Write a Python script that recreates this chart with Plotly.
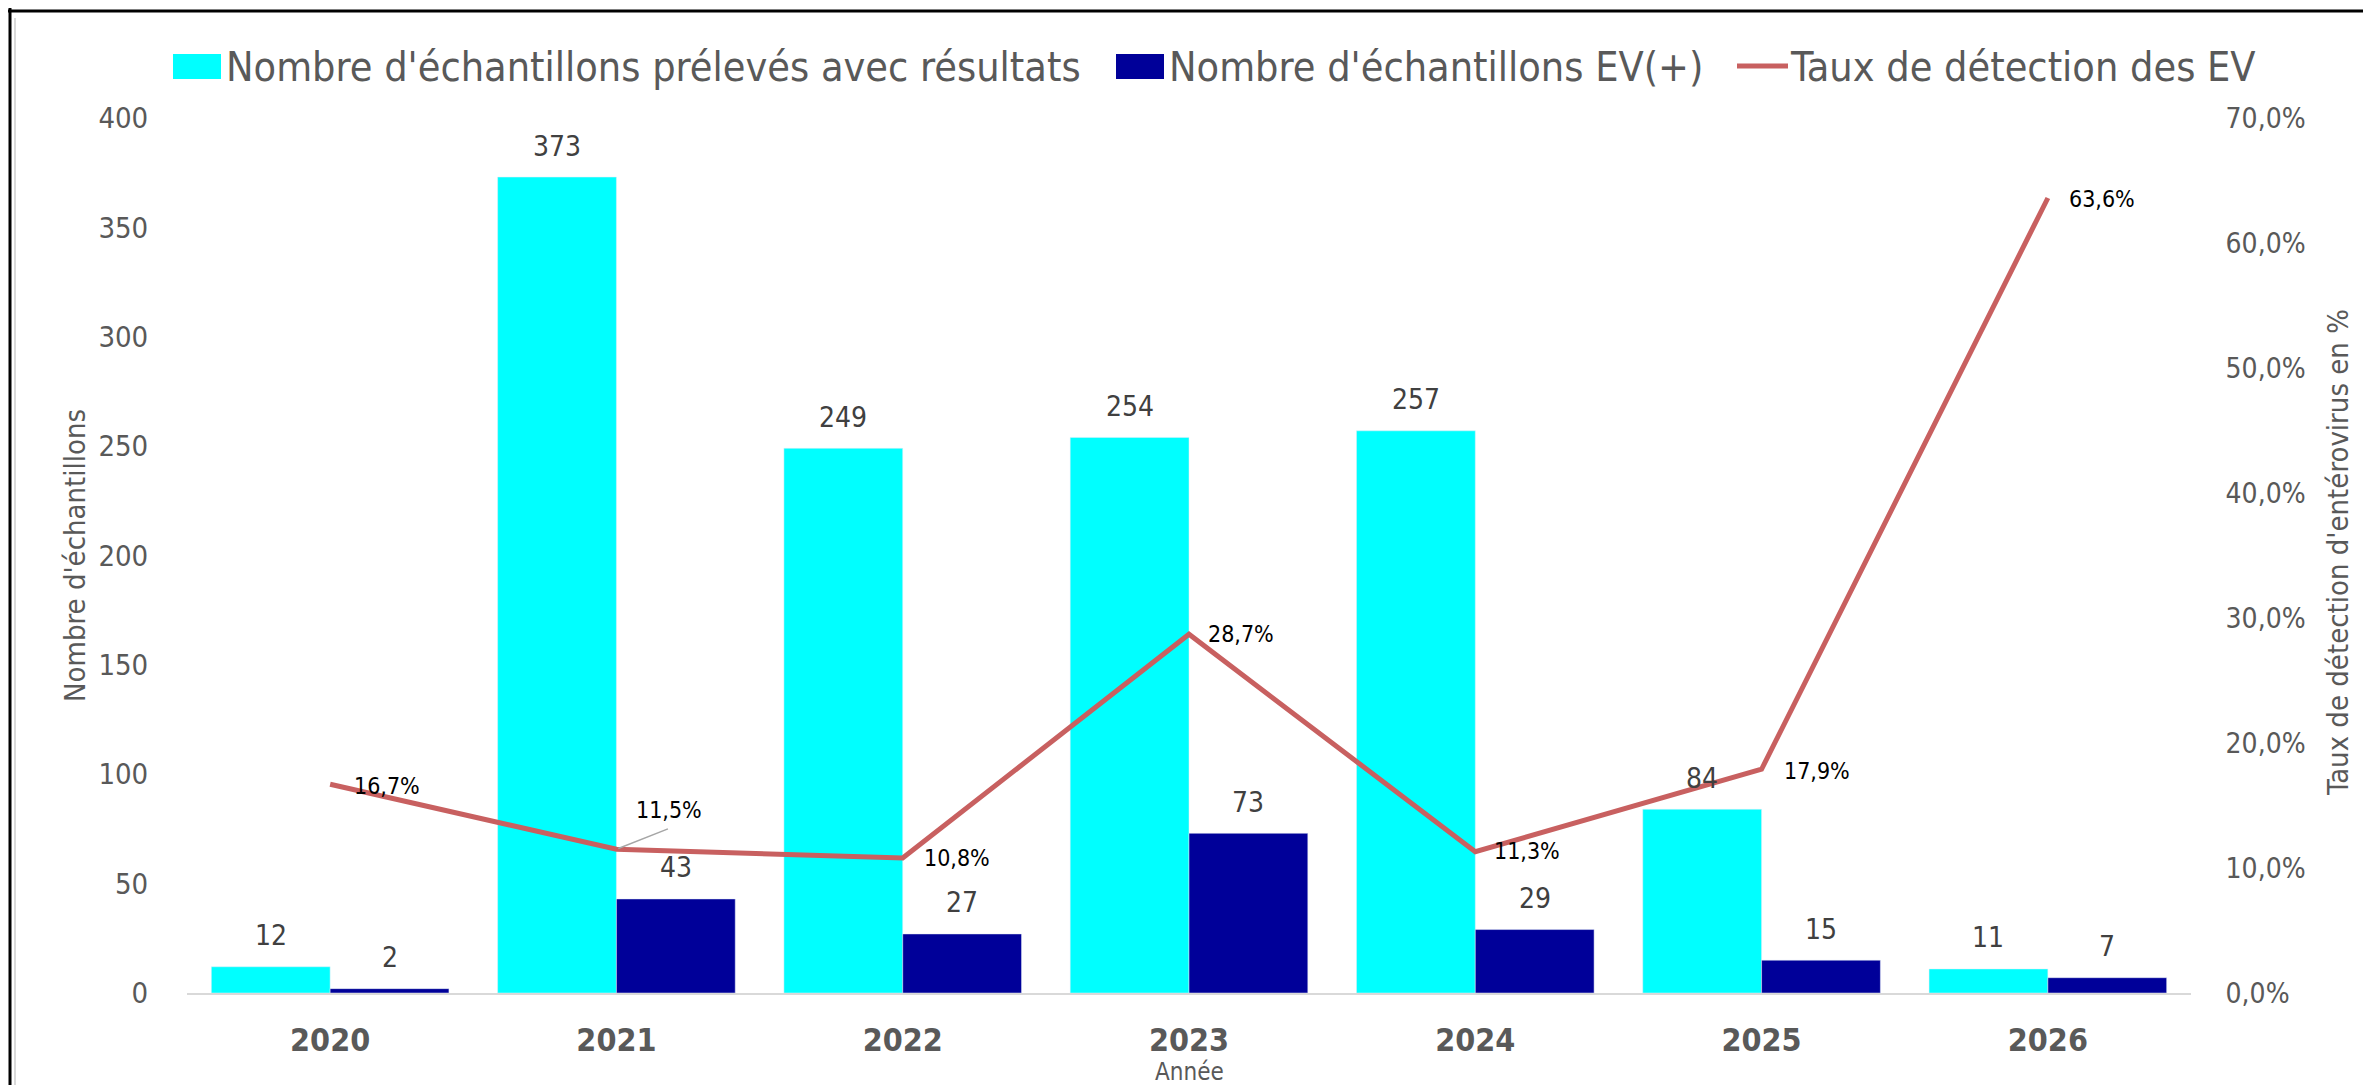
import plotly.graph_objects as go

years = ["2020", "2021", "2022", "2023", "2024", "2025", "2026"]
samples = [12, 373, 249, 254, 257, 84, 11]
positives = [2, 43, 27, 73, 29, 15, 7]
rates = [0.167, 0.115, 0.108, 0.287, 0.113, 0.179, 0.636]
rate_labels = ["16,7%", "11,5%", "10,8%", "28,7%", "11,3%", "17,9%", "63,6%"]

name_samples = "Nombre d'échantillons prélevés avec résultats"
name_pos = "Nombre d'échantillons EV(+)"
name_rate = "Taux de détection des EV"

W, H = 2371, 1085
L, R, T, B = 179, 188, 110, 100
PW, PH = W - L - R, H - T - B
BARGAP = 0.17

def px(x):
    return (x - L) / PW

def py(y):
    return (H - B - y) / PH

FONT = "DejaVu Sans Condensed, DejaVu Sans, sans-serif"
CYAN = "#00FFFF"
NAVY = "#000099"
RED = "#C86060"
GRAY = "#595959"

fig = go.Figure()
fig.add_trace(go.Bar(x=years, y=samples, name=name_samples, marker_color=CYAN,
                     showlegend=False))
fig.add_trace(go.Bar(x=years, y=positives, name=name_pos, marker_color=NAVY,
                     showlegend=False))
fig.add_trace(go.Scatter(x=years, y=rates, name=name_rate, yaxis="y2", mode="lines",
                         line=dict(color=RED, width=5), showlegend=False))

# bar value labels, centred over each bar of the group
cat_px = PW / len(years)
half_bar = cat_px * (1 - BARGAP) / 4
for i in range(len(years)):
    for vals, sign in ((samples, -1), (positives, 1)):
        fig.add_annotation(x=i, y=vals[i], xref="x", yref="y", text=str(vals[i]),
                           showarrow=False, xanchor="center", yanchor="middle",
                           xshift=sign * half_bar, yshift=31,
                           font=dict(size=28, color="#404040", family=FONT))

# line value labels (x given as category index)
shifts = [("left", 22, -2), ("center", 53, 39), ("left", 19, 0), ("left", 17, 0),
          ("left", 17, 1), ("left", 20, -2), ("left", 19, -1)]
for i, (r, lab, (anc, dx, dy)) in enumerate(zip(rates, rate_labels, shifts)):
    fig.add_annotation(x=i, y=r, xref="x", yref="y2", text=lab, showarrow=False,
                       xanchor=anc, yanchor="middle", xshift=dx, yshift=dy,
                       font=dict(size=23, color="#000000", family=FONT))
# leader line for 2021 label
fig.add_annotation(x=1, y=rates[1], xref="x", yref="y2", text="", showarrow=True,
                   arrowhead=0, arrowwidth=1.5, arrowcolor="#A6A6A6",
                   ax=53, ay=-21, axref="pixel", ayref="pixel", standoff=2)

# custom legend
legend_y = py(59)
fig.add_shape(type="rect", xref="paper", yref="paper",
              x0=px(165), x1=px(213), y0=py(71), y1=py(46),
              fillcolor=CYAN, line_width=0)
fig.add_shape(type="rect", xref="paper", yref="paper",
              x0=px(1108), x1=px(1156), y0=py(71), y1=py(46),
              fillcolor=NAVY, line_width=0)
fig.add_shape(type="line", xref="paper", yref="paper",
              x0=px(1729), x1=px(1780), y0=py(58), y1=py(58),
              line=dict(color=RED, width=5))
for xx, txt in [(216, name_samples), (1159, name_pos), (1780, name_rate)]:
    fig.add_annotation(xref="paper", yref="paper", x=px(xx), y=legend_y, text=txt,
                       showarrow=False, xanchor="left", yanchor="middle",
                       font=dict(size=41, color=GRAY, family=FONT))

# axis titles
fig.add_annotation(xref="paper", yref="paper", x=px(67), y=py(548),
                   text="Nombre d'échantillons", textangle=-90, showarrow=False,
                   xanchor="center", yanchor="middle",
                   font=dict(size=29, color=GRAY, family=FONT))
fig.add_annotation(xref="paper", yref="paper", x=px(2330), y=py(545),
                   text="Taux de détection d'entérovirus en %", textangle=-90,
                   showarrow=False, xanchor="center", yanchor="middle",
                   font=dict(size=29, color=GRAY, family=FONT))
fig.add_annotation(xref="paper", yref="paper", x=px(1181), y=py(1064),
                   text="Année", showarrow=False, xanchor="center", yanchor="middle",
                   borderpad=0, font=dict(size=24, color=GRAY, family=FONT))

# frame lines (top and left)
fig.add_shape(type="line", xref="paper", yref="paper",
              x0=px(0), x1=px(W), y0=py(3), y1=py(3),
              line=dict(color="#000000", width=3))
fig.add_shape(type="line", xref="paper", yref="paper",
              x0=px(2), x1=px(2), y0=py(0), y1=py(H),
              line=dict(color="#000000", width=3))
fig.add_shape(type="line", xref="paper", yref="paper",
              x0=px(7), x1=px(7), y0=py(10), y1=py(H),
              line=dict(color="#D9D9D9", width=2))

fig.update_layout(
    width=W, height=H,
    margin=dict(l=L, r=R, t=T, b=B, pad=0),
    paper_bgcolor="white", plot_bgcolor="white",
    barmode="group", bargap=BARGAP, bargroupgap=0,
    separators=", ",
    font=dict(family=FONT, color=GRAY),
    xaxis=dict(type="category", range=[-0.5, 6.5], showgrid=False, showline=True,
               linecolor="#D9D9D9", linewidth=2, ticks="outside", ticklen=18,
               tickcolor="rgba(0,0,0,0)",
               tickfont=dict(size=32, color=GRAY, family=FONT, weight="bold")),
    yaxis=dict(range=[0, 400], dtick=50, showgrid=False, zeroline=False, showline=False,
               ticks="outside", ticklen=32, tickcolor="rgba(0,0,0,0)",
               tickfont=dict(size=29, color=GRAY, family=FONT)),
    yaxis2=dict(range=[0, 0.7], dtick=0.1, tickformat=".1%", overlaying="y", side="right",
                showgrid=False, zeroline=False, showline=False,
                ticks="outside", ticklen=28, tickcolor="rgba(0,0,0,0)",
                tickfont=dict(size=28, color=GRAY, family=FONT)),
    showlegend=False,
)

fig.write_html("out.html")
